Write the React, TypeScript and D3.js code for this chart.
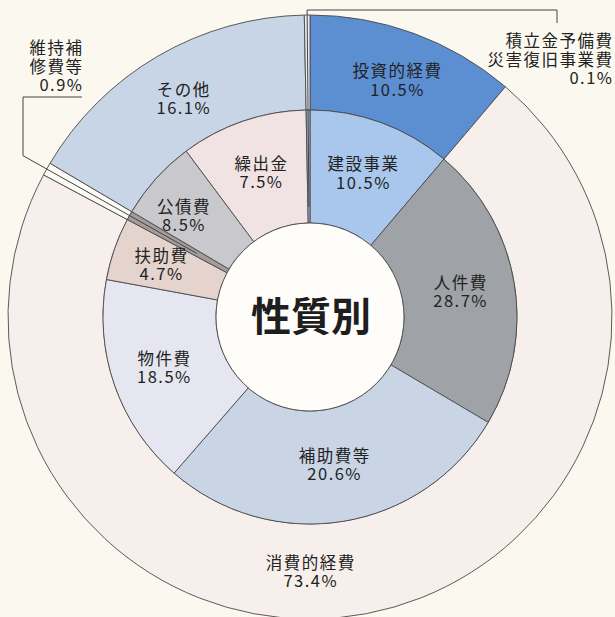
import React, { useEffect, useRef } from "react";
import * as d3 from "d3";

// ---- data ----
const innerNames = ["建設事業", "人件費", "補助費等", "物件費", "扶助費", "維持補\n修費等", "公債費", "繰出金", "積立金予備費\n災害復旧事業費"];
const innerPct = [10.5, 28.7, 20.6, 18.5, 4.7, 0.9, 8.5, 7.5, 0.1];
// slice sizes as they are drawn in the picture (the printed chart is not to scale)
const innerDrawn = [11.2, 22.3, 27.9, 16.5, 4.9, 0.7, 6.3, 9.9, 0.3];

const outerNames = ["投資的経費", "消費的経費", "維持補修費等", "その他", "積立金予備費災害復旧事業費"];
const outerPct = [10.5, 73.4, 0.9, 16.1, 0.1];
const outerMembers = [[0], [1, 2, 3, 4], [5], [6, 7], [8]];

const centerTitle = "性質別";

// ---- styles ----
const innerColors = ["#a9c7ec", "#9fa3a8", "#c9d4e5", "#e5e6ef", "#e4d4cd", "#a39c9b", "#c9c9cd", "#f1e3e3", "#a7b5c8"];
const outerColors = ["#5b8fd2", "#f6efeb", "#fdfbf6", "#c8d5e7", "#e9edf3"];
const W = 615, H = 617;
const cx = 310, cy = 317;
const rIn = 94, rMid = 207, rOut = 302;
const FONT = "'Noto Sans CJK JP', 'Noto Sans', sans-serif";

export default function App() {
  const ref = useRef<SVGSVGElement>(null);
  useEffect(() => {
    const svg = d3.select(ref.current);
    svg.selectAll("*").remove();
    svg.append("rect").attr("width", W).attr("height", H).attr("fill", "#fbf8f0");
    const g = svg.append("g").attr("transform", `translate(${cx},${cy})`);

    const pie = d3.pie<number>().sort(null).value((d) => d);
    const innerArcs = pie(innerDrawn);
    const outerDrawn = outerMembers.map((m) => d3.sum(m, (i) => innerDrawn[i]));
    const outerArcs = pie(outerDrawn);

    const arcOuter = d3.arc<any>().innerRadius(rMid).outerRadius(rOut);
    const arcInner = d3.arc<any>().innerRadius(rIn).outerRadius(rMid);

    g.selectAll("path.outer").data(outerArcs).enter().append("path")
      .attr("d", arcOuter).attr("fill", (_, i) => outerColors[i])
      .attr("stroke", "#4a4a4a").attr("stroke-width", 0.9);
    g.selectAll("path.inner").data(innerArcs).enter().append("path")
      .attr("d", arcInner).attr("fill", (_, i) => innerColors[i])
      .attr("stroke", "#4a4a4a").attr("stroke-width", 0.9);

    g.append("circle").attr("r", rIn).attr("fill", "#fffdf9").attr("stroke", "#4a4a4a").attr("stroke-width", 0.9);

    const pt = (a: number, r: number): [number, number] => [r * Math.sin(a), -r * Math.cos(a)];
    const mid = (d: any) => (d.startAngle + d.endAngle) / 2;

    // leader lines
    {
      const a = mid(innerArcs[5]);
      const p0 = pt(a, 130);
      const r1 = (23 - cx) / Math.sin(a);
      const p1 = pt(a, r1);
      const pts: [number, number][] = [p0, p1, [p1[0], 97 - cy], [82 - cx, 97 - cy]];
      g.append("path").attr("d", d3.line()(pts)).attr("fill", "none").attr("stroke", "#444").attr("stroke-width", 1);
    }
    {
      const a = mid(innerArcs[8]);
      const p0 = pt(a, 110);
      const r1 = (cy - 10) / Math.cos(a);
      const p1 = pt(a, r1);
      const pts: [number, number][] = [p0, p1, [557 - cx, 10 - cy], [557 - cx, 23 - cy]];
      g.append("path").attr("d", d3.line()(pts)).attr("fill", "none").attr("stroke", "#444").attr("stroke-width", 1);
    }

    const fs = 16.5, lh = 18.5, ls = 1.5;
    const label = (x: number, y: number, lines: string[], anchor = "middle") => {
      const y0 = y - ((lines.length - 1) * lh) / 2;
      lines.forEach((s, i) => {
        g.append("text").attr("text-anchor", anchor).attr("font-family", FONT)
          .attr("font-size", fs).attr("letter-spacing", ls).attr("fill", "#222")
          .attr("x", anchor === "middle" ? x + ls / 2 : x + ls).attr("y", y0 + i * lh).attr("dy", "0.36em").text(s);
      });
    };
    const pctText = (v: number) => `${v.toFixed(1)}%`;

    // inner labels
    const innerR = [153, 152, 150, 155, 158, 0, 162, 152, 0];
    innerArcs.forEach((d, i) => {
      if (innerR[i] === 0) return;
      let a = mid(d);
      if (i === 6) a -= 0.06;
      const [x, y] = pt(a, innerR[i]);
      label(x, y, [innerNames[i], pctText(innerPct[i])]);
    });
    // outer labels
    [0, 3].forEach((i) => {
      const d = outerArcs[i];
      const [x, y] = pt(mid(d), 252);
      label(x, y, [outerNames[i], pctText(outerPct[i])]);
    });
    {
      const [x, y] = pt(Math.PI, 255);
      label(x, y, [outerNames[1], pctText(outerPct[1])]);
    }
    // external labels
    label(82 - cx, 67 - cy, [...innerNames[5].split("\n"), pctText(innerPct[5])], "end");
    label(612 - cx, 60 - cy, [...innerNames[8].split("\n"), pctText(innerPct[8])], "end");

    // center title
    g.append("text").attr("text-anchor", "middle").attr("dy", "0.36em").attr("y", 0).attr("x", 1)
      .attr("font-family", FONT).attr("font-weight", 700).attr("font-size", 40).attr("fill", "#1e1e1e")
      .text(centerTitle);
  }, []);
  return (
    <svg ref={ref} width={W} height={H} style={{ position: "absolute", left: 0, top: 0, display: "block" }} />
  );
}
